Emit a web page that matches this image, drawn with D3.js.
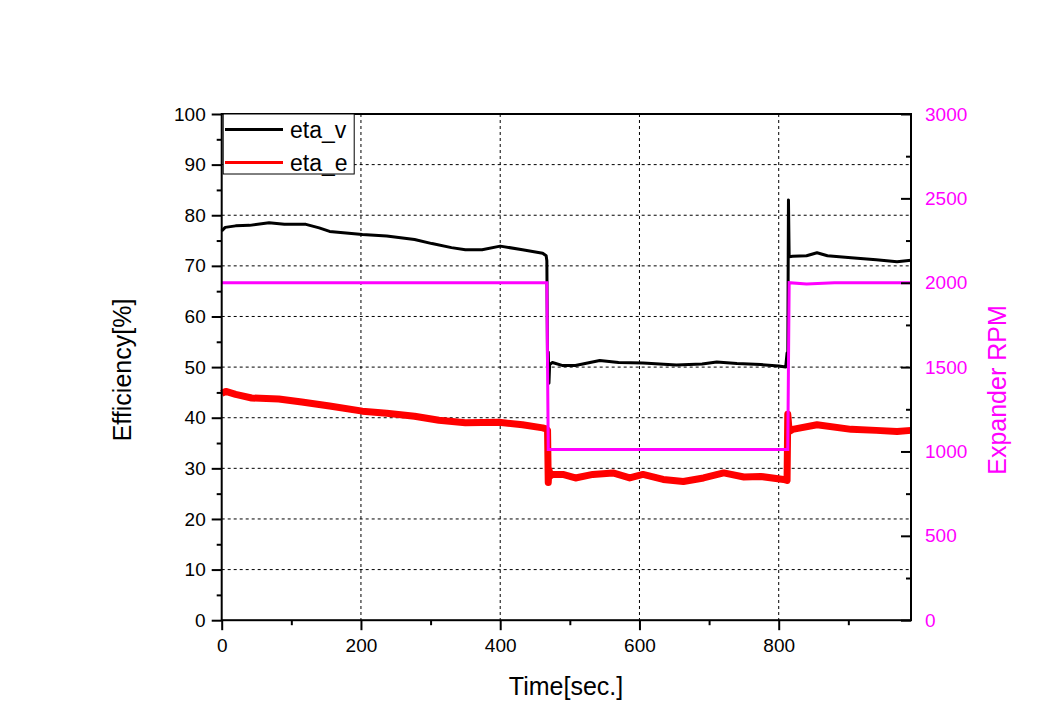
<!DOCTYPE html>
<html>
<head>
<meta charset="utf-8">
<script src="https://cdn.jsdelivr.net/npm/d3@7"></script>
<style>
  html, body { margin: 0; padding: 0; background: #ffffff; }
  svg { display: block; font-family: Arial, "Liberation Sans", sans-serif; }
</style>
</head>
<body>
<svg id="chart" width="1048" height="714"></svg>
<script>
// ---- data ----
const etaVTime = [0, 5, 20, 40, 68, 90, 121, 140, 155, 202, 237, 277, 302, 330, 350, 374, 400, 432, 461, 466, 467, 468, 469, 470, 471, 475, 490, 508, 543, 570, 605, 653, 690, 711, 740, 774, 800, 810, 812, 813, 814, 815, 820, 840, 855, 870, 904, 940, 970, 990];
const etaV     = [76.9, 77.6, 77.9, 78.0, 78.5, 78.2, 78.2, 77.5, 76.8, 76.2, 75.9, 75.2, 74.4, 73.6, 73.2, 73.2, 73.9, 73.2, 72.5, 72.0, 71.0, 50.0, 53.0, 46.8, 50.5, 50.9, 50.3, 50.3, 51.3, 50.9, 50.8, 50.4, 50.6, 51.0, 50.7, 50.5, 50.2, 50.0, 52.8, 50.5, 83.0, 71.8, 71.9, 72.0, 72.6, 72.0, 71.6, 71.2, 70.8, 71.1];

const etaETime = [0, 6, 20, 43, 82, 115, 155, 202, 237, 277, 312, 350, 398, 432, 461, 466, 468, 469, 470, 472, 475, 490, 508, 533, 562, 586, 605, 634, 663, 692, 721, 750, 774, 807, 812, 813, 815, 820, 855, 904, 940, 970, 990];
const etaE     = [44.8, 45.2, 44.6, 43.9, 43.7, 43.1, 42.3, 41.3, 40.9, 40.3, 39.5, 39.0, 39.1, 38.6, 38.0, 37.8, 37.5, 27.2, 29.8, 28.5, 28.8, 28.8, 28.1, 28.8, 29.1, 28.1, 28.8, 27.8, 27.4, 28.1, 29.1, 28.3, 28.4, 27.8, 27.6, 40.7, 37.3, 37.7, 38.6, 37.7, 37.5, 37.3, 37.5];

const rpmTime = [0, 467, 469, 813, 815, 840, 880, 990];
const rpm     = [2000, 2000, 1012, 1012, 2000, 1992, 2000, 2000];

const xTicks = [0, 200, 400, 600, 800];
const xMinorTicks = [100, 300, 500, 700, 900];
const yTicks = [0, 10, 20, 30, 40, 50, 60, 70, 80, 90, 100];
const yMinorTicks = [5, 15, 25, 35, 45, 55, 65, 75, 85, 95];
const rTicks = [0, 500, 1000, 1500, 2000, 2500, 3000];
const rMinorTicks = [250, 750, 1250, 1750, 2250, 2750];
const seriesNames = ["eta_v", "eta_e"];

// ---- layout ----
const svg = d3.select("#chart");
const L = 221.7, R = 911, T = 114, B = 620.2;
const MAG = "#ff00ff";

const x = d3.scaleLinear().domain([0, 990]).range([L, R]);
const y = d3.scaleLinear().domain([0, 100]).range([B, T]);
const yr = d3.scaleLinear().domain([0, 3000]).range([B, T]);

// grid
const grid = svg.append("g");
grid.selectAll("line.h").data(yTicks.filter(d => d > 0 && d < 100)).join("line")
  .attr("x1", L).attr("x2", R).attr("y1", d => y(d)).attr("y2", d => y(d))
  .attr("stroke", "#000").attr("stroke-width", 1).attr("stroke-dasharray", "3,3");
grid.selectAll("line.v").data(xTicks.filter(d => d > 0)).join("line")
  .attr("y1", T).attr("y2", B).attr("x1", d => x(d)).attr("x2", d => x(d))
  .attr("stroke", "#000").attr("stroke-width", 1).attr("stroke-dasharray", "3,3");

// lines
const lineV = d3.line().x((d, i) => x(etaVTime[i])).y(d => y(d));
const lineE = d3.line().x((d, i) => x(etaETime[i])).y(d => y(d));
const lineR = d3.line().x((d, i) => x(rpmTime[i])).y(d => yr(d));

svg.append("path").attr("d", lineV(etaV)).attr("fill", "none").attr("stroke", "#000").attr("stroke-width", 3).attr("stroke-linejoin", "round");
svg.append("path").attr("d", lineE(etaE)).attr("fill", "none").attr("stroke", "#ff0000").attr("stroke-width", 7).attr("stroke-linejoin", "round");
svg.append("path").attr("d", lineR(rpm)).attr("fill", "none").attr("stroke", MAG).attr("stroke-width", 3);

// axes
const fs = "19px";
const gx = svg.append("g").attr("transform", `translate(0,${B})`)
  .call(d3.axisBottom(x).tickValues(xTicks).tickFormat(d3.format("d")).tickSize(10).tickPadding(8));
const gxm = svg.append("g").attr("transform", `translate(0,${B})`)
  .call(d3.axisBottom(x).tickValues(xMinorTicks).tickFormat("").tickSize(5));
const gy = svg.append("g").attr("transform", `translate(${L},0)`)
  .call(d3.axisLeft(y).tickValues(yTicks).tickFormat(d3.format("d")).tickSize(10).tickPadding(6));
const gym = svg.append("g").attr("transform", `translate(${L},0)`)
  .call(d3.axisLeft(y).tickValues(yMinorTicks).tickFormat("").tickSize(5));
const gr = svg.append("g").attr("transform", `translate(${R},0)`)
  .call(d3.axisRight(yr).tickValues(rTicks).tickFormat(d3.format("d")).tickSizeInner(-10).tickSizeOuter(0).tickPadding(14));
const grm = svg.append("g").attr("transform", `translate(${R},0)`)
  .call(d3.axisRight(yr).tickValues(rMinorTicks).tickFormat("").tickSizeInner(-5).tickSizeOuter(0));

[gx, gxm, gy, gym, gr, grm].forEach(g => {
  g.select(".domain").remove();
  g.selectAll("line").attr("stroke", "#000").attr("stroke-width", 2);
  g.selectAll("text").attr("font-size", fs).attr("fill", "#000").attr("font-family", "Arial, 'Liberation Sans', sans-serif");
});
gr.selectAll("text").attr("fill", MAG);

// frame
svg.append("rect").attr("x", L).attr("y", T).attr("width", R - L).attr("height", B - T)
  .attr("fill", "none").attr("stroke", "#000").attr("stroke-width", 2);

// legend
const lg = svg.append("g");
lg.append("rect").attr("x", L + 1.5).attr("y", T).attr("width", 131).attr("height", 60)
  .attr("fill", "#fff").attr("stroke", "#000").attr("stroke-width", 1);
const legColors = ["#000", "#ff0000"];
seriesNames.forEach((n, i) => {
  const yy = 129.5 + i * 33;
  lg.append("line").attr("x1", 225).attr("x2", 283).attr("y1", yy).attr("y2", yy)
    .attr("stroke", legColors[i]).attr("stroke-width", 3);
  lg.append("text").attr("x", 290).attr("y", yy + 8).attr("font-size", "23px").attr("fill", "#000").text(n);
});

// axis titles
svg.append("text").attr("x", 566).attr("y", 695).attr("text-anchor", "middle")
  .attr("font-size", "25px").attr("fill", "#000").text("Time[sec.]");
svg.append("text").attr("transform", "translate(131,370) rotate(-90)").attr("text-anchor", "middle")
  .attr("font-size", "25px").attr("fill", "#000").text("Efficiency[%]");
svg.append("text").attr("transform", "translate(997,390) rotate(-90)").attr("text-anchor", "middle").attr("dominant-baseline", "central")
  .attr("font-size", "25px").attr("fill", MAG).text("Expander RPM");
</script>
</body>
</html>
